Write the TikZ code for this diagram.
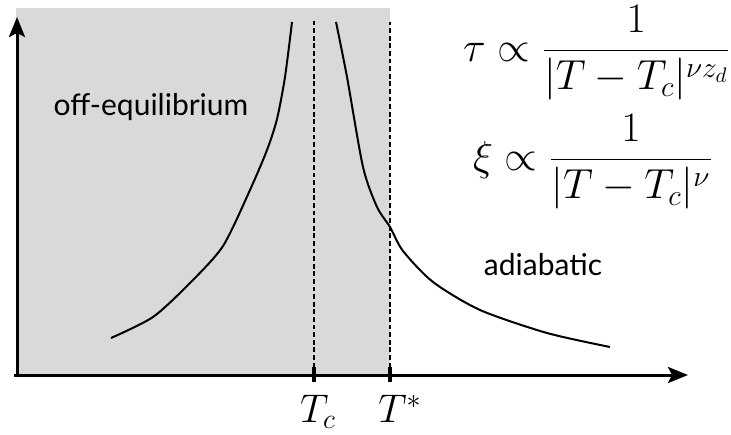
\RequirePackage{fix-cm}
\documentclass[tikz,border=0pt]{standalone}
\usepackage{fontspec}
\setsansfont{Lato}
\usetikzlibrary{arrows.meta}

\begin{document}
\begin{tikzpicture}[
  x=0.5pt, y=0.5pt,
  axis/.style={-{Stealth[length=10pt, width=8pt, inset=2pt]}, line width=1.5pt},
  curve/.style={line width=1pt, smooth, tension=0.45},
  crit/.style={line width=0.8pt, dash pattern=on 2.4pt off 1.4pt},
  tick/.style={line width=2pt},
  region/.style={font=\sffamily\fontsize{15}{17}\selectfont},
  law/.style={font=\fontsize{21}{25}\selectfont},
  temp/.style={font=\fontsize{20}{24}\selectfont}
]
\useasboundingbox (0,0) rectangle (731,434);

% off-equilibrium region
\fill[black!15] (16,59) rectangle (390,426);

\coordinate (origin) at (17,59);
\coordinate (ytop) at (17,417);
\coordinate (xend) at (688,59);
\draw[axis] (origin) -- (ytop);
\draw[axis] (14,59) -- (xend);

\coordinate (tc) at (314,59);
\coordinate (tcup) at (314,416);
\coordinate (ts) at (390,59);
\coordinate (tsup) at (390,412);
\draw[crit] (tc) -- (tcup);
\draw[crit] (ts) -- (tsup);
\draw[tick] (314,52) -- (314,67);
\draw[tick] (390,52) -- (390,67);

\node[temp] (tclabel) at (318,22) {$T_c$};
\node[temp] (tslabel) at (400,25) {$T^*$};

\draw[curve] plot coordinates {(111,96) (153,117) (190,151) (223,188) (250,244)
  (267,284) (277,315) (285,357) (292,412)};
\draw[curve] plot coordinates {(336,412) (347,357) (363,267) (377,227) (390,207)
  (403,183) (433,152) (480,124) (547,101) (610,87)};

\node[region] (offeq) at (151,327) {off-equilibrium};
\node[region] (adiab) at (543,169) {adiabatic};

\node[law] (tau) at (597,381) {$\displaystyle \tau \propto \frac{1}{|T-T_c|^{\nu z_d}}$};
\node[law] (xi) at (593,272) {$\displaystyle \xi \propto \frac{1}{|T-T_c|^{\nu}}$};

\end{tikzpicture}
\end{document}
